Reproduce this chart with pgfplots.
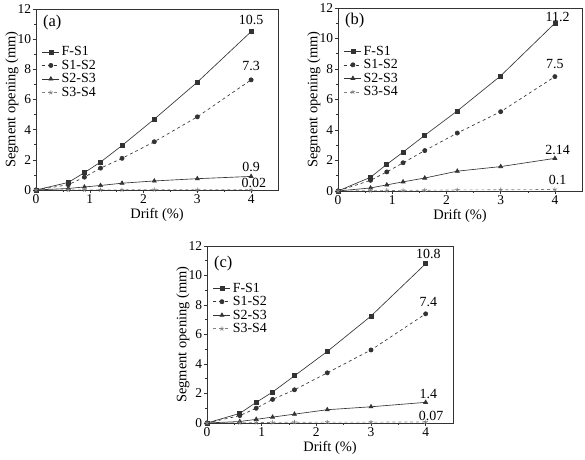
\documentclass[border=0pt]{standalone}
\usepackage{pgfplots}
\pgfplotsset{compat=1.18}
\usepackage{pgfplotstable}
\usepackage{fontspec}
\setmainfont{Liberation Serif}

\pgfplotstableread{
x    fs   ss   tt   ff
0    0    0    0    0
0.6  0.5  0.35 0.1  0.0
0.9  1.15 0.85 0.2  0.01
1.2  1.85 1.45 0.3  0.01
1.6  2.95 2.1  0.45 0.01
2.2  4.7  3.2  0.6  0.02
3    7.15 4.85 0.75 0.02
4    10.5 7.3  0.9  0.02
}\dataA
\pgfplotstableread{
x    fs   ss   tt   ff
0    0    0    0    0
0.6  0.9  0.7  0.2  0.02
0.9  1.75 1.25 0.4  0.03
1.2  2.55 1.85 0.6  0.04
1.6  3.65 2.65 0.85 0.05
2.2  5.25 3.8  1.3  0.07
3    7.55 5.2  1.6  0.08
4    11.0 7.5  2.14 0.1
}\dataB
\pgfplotstableread{
x    fs   ss   tt   ff
0    0    0    0    0
0.6  0.65 0.5  0.1  0.02
0.9  1.4  1.0  0.25 0.03
1.2  2.1  1.6  0.4  0.04
1.6  3.2  2.25 0.6  0.05
2.2  4.85 3.4  0.9  0.06
3    7.25 4.95 1.1  0.06
4    10.8 7.4  1.4  0.07
}\dataC

\newcommand{\lf}{\fontsize{14}{15}\selectfont}
\newcommand{\tf}{\fontsize{13.5}{14}\selectfont}
\pgfplotsset{
  panel/.style={
    scale only axis,
    xmin=0, xmax=4.5, ymin=0, ymax=12,
    xtick={0,1,2,3,4}, ytick={0,2,...,12},
    minor x tick num=1, minor y tick num=1,
    tick align=outside, tick pos=left,
    major tick length=3.5bp, minor tick length=2bp,
    /pgf/number format/assume math mode=true,
    tick label style={font=\tf},
    label style={font=\fontsize{14.5}{15}\selectfont},
    xlabel={Drift (\%)}, ylabel={Segment opening (mm)},
    xticklabel style={yshift=2.5bp},
    xlabel style={at={([yshift=-25bp]axis description cs:0.5,0)}, anchor=center},
    ylabel style={at={([xshift=-24bp]axis description cs:0,0.5)}, anchor=center},
    yticklabel style={xshift=2bp},
    axis line style={black!80, line width=0.6pt},
    every tick/.style={black!80, line width=0.5pt},
    legend style={draw=none, fill=none, at={(0.02,0.81)}, anchor=north west,
      font=\lf, row sep=-1.2bp, inner sep=1bp},
    legend cell align=left,
    legend image code/.code={
      \draw[mark repeat=2,mark phase=2,##1] plot coordinates {(0cm,0cm) (0.3cm,0cm) (0.6cm,0cm)};},
  },
  sfs/.style={black!80, line width=0.65pt, mark=square*, mark size=2bp, mark options={solid}},
  sss/.style={black!80, line width=0.65pt, dashed, mark=*, mark size=2.1bp, mark options={solid}},
  stt/.style={black!80, line width=0.65pt, mark=triangle*, mark size=2.3bp, mark options={solid}},
  sff/.style={black!50, line width=0.65pt, dashed, mark=star, mark size=2.3bp, mark options={solid}},
}

\begin{document}
\begin{tikzpicture}[x=1bp,y=1bp]
\path[use as bounding box] (0,0) rectangle (585,460);

% (a)
\begin{axis}[panel, at={(36bp,270bp)}, anchor=south west, width=242bp, height=181bp]
\addplot[sfs] table[x=x,y=fs]{\dataA}; \addlegendentry{F-S1}
\addplot[sss] table[x=x,y=ss]{\dataA}; \addlegendentry{S1-S2}
\addplot[stt] table[x=x,y=tt]{\dataA}; \addlegendentry{S2-S3}
\addplot[sff] table[x=x,y=ff]{\dataA}; \addlegendentry{S3-S4}
\node[anchor=west, font=\fontsize{16.5}{17}\selectfont] at (rel axis cs:0.015,0.925) {(a)};
\node[anchor=south, font=\lf] at (axis cs:4,10.75) {10.5};
\node[anchor=south, font=\lf] at (axis cs:4,7.7) {7.3};
\node[anchor=south, font=\lf] at (axis cs:4,1.0) {0.9};
\node[anchor=south, font=\lf] at (axis cs:4.05,-0.1) {0.02};
\end{axis}

% (b)
\begin{axis}[panel, at={(338bp,269bp)}, anchor=south west, width=244bp, height=183bp]
\addplot[sfs] table[x=x,y=fs]{\dataB}; \addlegendentry{F-S1}
\addplot[sss] table[x=x,y=ss]{\dataB}; \addlegendentry{S1-S2}
\addplot[stt] table[x=x,y=tt]{\dataB}; \addlegendentry{S2-S3}
\addplot[sff] table[x=x,y=ff]{\dataB}; \addlegendentry{S3-S4}
\node[anchor=west, font=\fontsize{16.5}{17}\selectfont] at (rel axis cs:0.015,0.93) {(b)};
\node[anchor=south, font=\lf] at (axis cs:4.05,10.9) {11.2};
\node[anchor=south, font=\lf] at (axis cs:4,7.8) {7.5};
\node[anchor=south, font=\lf] at (axis cs:4.05,2.15) {2.14};
\node[anchor=south, font=\lf] at (axis cs:4.05,0.15) {0.1};
\end{axis}

% (c)
\begin{axis}[panel, at={(207bp,37bp)}, anchor=south west, width=246bp, height=177bp]
\addplot[sfs] table[x=x,y=fs]{\dataC}; \addlegendentry{F-S1}
\addplot[sss] table[x=x,y=ss]{\dataC}; \addlegendentry{S1-S2}
\addplot[stt] table[x=x,y=tt]{\dataC}; \addlegendentry{S2-S3}
\addplot[sff] table[x=x,y=ff]{\dataC}; \addlegendentry{S3-S4}
\node[anchor=west, font=\fontsize{16.5}{17}\selectfont] at (rel axis cs:0.015,0.9) {(c)};
\node[anchor=south, font=\lf] at (axis cs:4.05,10.9) {10.8};
\node[anchor=south, font=\lf] at (axis cs:4.05,7.65) {7.4};
\node[anchor=south, font=\lf] at (axis cs:4.05,1.4) {1.4};
\node[anchor=south, font=\lf] at (axis cs:4.1,-0.1) {0.07};
\end{axis}
\end{tikzpicture}
\end{document}
